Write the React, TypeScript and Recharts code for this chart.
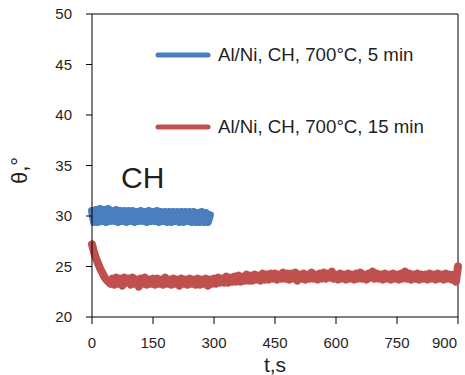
import { LineChart, Line, XAxis, YAxis, ReferenceLine } from "recharts";

// sampling step of both runs, seconds
const STEP = 5;

// Al/Ni, CH, 700°C, 5 min  (t = 0..290 s)
const BLUE_VALUES = [
  30.5, 29.4, 30.6, 29.4, 30.7, 29.5, 30.6, 29.4, 30.7, 29.5,
  30.5, 29.5, 30.6, 29.4, 30.5, 29.5, 30.5, 29.4, 30.5, 29.5,
  30.5, 29.4, 30.4, 29.5, 30.5, 29.5, 30.4, 29.4, 30.5, 29.5,
  30.4, 29.5, 30.5, 29.4, 30.4, 29.5, 30.4, 29.4, 30.4, 29.4,
  30.4, 29.5, 30.4, 29.4, 30.4, 29.4, 30.4, 29.5, 30.4, 29.4,
  30.4, 29.4, 30.3, 29.4, 30.4, 29.4, 30.3, 29.4, 30.1,
];

// Al/Ni, CH, 700°C, 15 min  (t = 0..900 s)
const RED_VALUES = [
  27.2, 26.4, 25.8, 25.3, 24.8, 24.4, 24.0, 23.7, 23.5, 23.3,
  23.8, 23.2, 23.9, 23.3, 23.8, 23.1, 23.9, 23.4, 23.8, 23.2,
  23.9, 23.3, 23.7, 23.0, 23.8, 23.3, 23.9, 23.2, 23.7, 23.3,
  23.8, 23.2, 23.8, 23.3, 23.7, 23.2, 23.9, 23.3, 23.7, 23.2,
  23.8, 23.3, 23.7, 23.1, 23.8, 23.3, 23.7, 23.2, 23.8, 23.3,
  23.7, 23.2, 23.8, 23.2, 23.7, 23.3, 23.8, 23.1, 23.7, 23.3,
  23.8, 23.3, 23.9, 23.4, 23.8, 23.4, 24.0, 23.4, 23.9, 23.5,
  24.0, 23.5, 24.1, 23.5, 24.0, 23.6, 24.2, 23.6, 24.1, 23.6,
  24.2, 23.7, 24.1, 23.6, 24.3, 23.7, 24.2, 23.7, 24.3, 23.8,
  24.3, 23.7, 24.2, 23.8, 24.4, 23.8, 24.3, 23.7, 24.3, 23.8,
  24.4, 23.6, 24.2, 23.8, 24.3, 23.7, 24.2, 23.8, 24.4, 23.8,
  24.2, 23.7, 24.3, 23.8, 24.4, 23.8, 24.3, 23.9, 24.5, 23.8,
  24.2, 23.7, 24.3, 23.8, 24.2, 23.7, 24.3, 23.8, 24.2, 23.7,
  24.3, 23.8, 24.4, 23.8, 24.2, 23.7, 24.3, 23.9, 24.5, 23.8,
  24.3, 23.8, 24.2, 23.7, 24.3, 23.8, 24.2, 23.7, 24.3, 23.8,
  24.2, 23.7, 24.3, 23.8, 24.5, 23.8, 24.3, 23.7, 24.2, 23.8,
  24.3, 23.7, 24.2, 23.8, 24.2, 23.7, 24.3, 23.8, 24.2, 23.7,
  24.3, 23.8, 24.2, 23.7, 24.3, 23.8, 24.2, 23.7, 24.2, 23.5,
  25.0,
];

const X_TICKS = [0, 150, 300, 450, 600, 750, 900];
const Y_TICKS = [20, 25, 30, 35, 40, 45, 50];

const SERIES = [
  { name: "Al/Ni, CH, 700°C, 5 min", color: "#4a7ebf", values: BLUE_VALUES },
  { name: "Al/Ni, CH, 700°C, 15 min", color: "#c0504d", values: RED_VALUES },
];

const FONT = "'Liberation Sans', Arial, sans-serif";
const TEXT = "#1f1f1f";

// last x label is pulled inside the frame, like the original
function XTick(props: any) {
  const { x, y, payload } = props;
  const last = payload.value === X_TICKS[X_TICKS.length - 1];
  return (
    <text
      x={last ? x + 4 : x}
      y={y}
      dy="0.71em"
      textAnchor={last ? "end" : "middle"}
      fill={TEXT}
      fontSize={15}
      fontFamily={FONT}
    >
      {payload.value}
    </text>
  );
}

export default function App() {
  const series = SERIES.map((s) => ({
    ...s,
    data: s.values.map((v, i) => ({ t: i * STEP, v })),
  }));

  return (
    <div
      style={{
        position: "fixed",
        top: 0,
        left: 0,
        width: 465,
        height: 375,
        background: "#fff",
        fontFamily: FONT,
      }}
    >
      <LineChart width={465} height={375} margin={{ top: 14, right: 7, bottom: 0, left: 0 }}>
        <XAxis
          type="number"
          dataKey="t"
          domain={[0, 900]}
          ticks={X_TICKS}
          allowDuplicatedCategory={false}
          height={58}
          stroke="#000"
          tickSize={7}
          tickMargin={13}
          tick={<XTick />}
          label={{ value: "t,s", position: "insideBottom", offset: 3, fill: TEXT, fontSize: 21, fontFamily: FONT }}
        />
        <YAxis
          type="number"
          domain={[20, 50]}
          ticks={Y_TICKS}
          width={92}
          stroke="#000"
          tickSize={6}
          tickMargin={14}
          tick={{ fill: TEXT, fontSize: 15, fontFamily: FONT }}
          label={{
            content: (props: any) => {
              const vb = props.viewBox || { x: 0, y: 14, width: 92, height: 303 };
              const cx = vb.x + 27;
              const cy = vb.y + vb.height / 2 + 5;
              return (
                <text
                  x={cx}
                  y={cy}
                  transform={`rotate(-90 ${cx} ${cy})`}
                  textAnchor="middle"
                  fill={TEXT}
                  fontSize={22}
                  fontFamily={FONT}
                >
                  θ,°
                </text>
              );
            },
          }}
        />
        <ReferenceLine y={50} stroke="#000" strokeWidth={1} />
        <ReferenceLine x={900} stroke="#000" strokeWidth={1} />
        {series.map((s) => (
          <Line
            key={s.name}
            data={s.data}
            dataKey="v"
            type="linear"
            stroke={s.color}
            strokeWidth={8}
            strokeLinejoin="round"
            strokeLinecap="round"
            dot={false}
            isAnimationActive={false}
          />
        ))}
      </LineChart>

      {/* legend inside the plot box */}
      {series.map((s, i) => (
        <div
          key={s.name}
          style={{
            position: "absolute",
            left: 155,
            top: i === 0 ? 44 : 116,
            height: 22,
            display: "flex",
            alignItems: "center",
            gap: 7,
            fontSize: 18.7,
            color: TEXT,
            whiteSpace: "nowrap",
          }}
        >
          <svg width={56} height={8}>
            <line x1={3} y1={4} x2={53} y2={4} stroke={s.color} strokeWidth={5} strokeLinecap="round" />
          </svg>
          <span>{s.name}</span>
        </div>
      ))}

      <div
        style={{
          position: "absolute",
          left: 121,
          top: 160,
          fontSize: 30,
          color: TEXT,
          lineHeight: "36px",
        }}
      >
        CH
      </div>
    </div>
  );
}
